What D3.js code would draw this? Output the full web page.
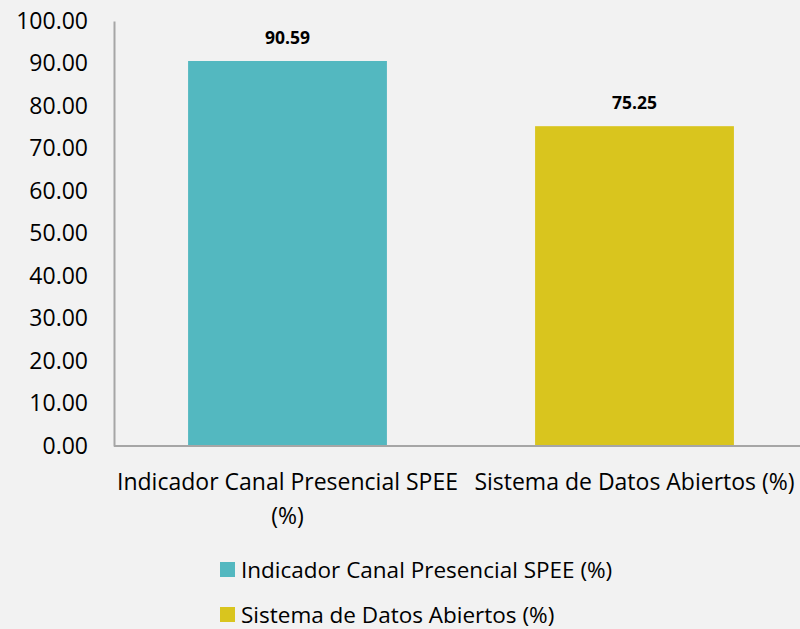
<!DOCTYPE html>
<html>
<head>
<meta charset="utf-8">
<script src="https://cdn.jsdelivr.net/npm/d3@7"></script>
<style>
  html, body { margin: 0; padding: 0; background: #f2f2f2; }
  svg { display: block; font-family: 'Open Sans', sans-serif; }
</style>
</head>
<body>
<svg id="chart" width="800" height="629"></svg>
<script>
const categories = ['Indicador Canal Presencial SPEE (%)', 'Sistema de Datos Abiertos (%)'];
const values = [90.59, 75.25];
const colors = ['#53b8c0', '#d9c51e'];
const yTicks = [0, 10, 20, 30, 40, 50, 60, 70, 80, 90, 100];

const svg = d3.select('#chart');
const W = 800, H = 629;
const plotLeft = 114, plotRight = 808, plotTop = 21, plotBottom = 446;

svg.append('rect').attr('width', W).attr('height', H).attr('fill', '#f2f2f2');

const y = d3.scaleLinear().domain([0, 100]).range([plotBottom, plotTop]);
const x = d3.scaleBand()
  .domain(categories)
  .range([plotLeft, plotRight])
  .paddingInner(0.427)
  .paddingOuter(0.2135);

// y axis labels (no tick marks)
const yAxis = svg.append('g')
  .attr('transform', `translate(${plotLeft},0)`)
  .call(d3.axisLeft(y).tickValues(yTicks).tickFormat(d3.format('.2f')).tickSize(0).tickPadding(26));
yAxis.select('.domain').attr('stroke', '#a6a6a6').attr('stroke-width', 2);
yAxis.selectAll('text').attr('font-size', 23).attr('fill', '#000').attr('font-family', "'Open Sans', sans-serif");

// bars
svg.append('g')
  .selectAll('rect')
  .data(values)
  .join('rect')
  .attr('x', (d, i) => x(categories[i]))
  .attr('width', x.bandwidth())
  .attr('y', d => y(d))
  .attr('height', d => y(0) - y(d))
  .attr('fill', (d, i) => colors[i]);

// x axis line
svg.append('line')
  .attr('x1', plotLeft).attr('x2', W)
  .attr('y1', plotBottom).attr('y2', plotBottom)
  .attr('stroke', '#a6a6a6').attr('stroke-width', 2);

// data labels
svg.append('g')
  .selectAll('text')
  .data(values)
  .join('text')
  .attr('x', (d, i) => x(categories[i]) + x.bandwidth() / 2)
  .attr('y', d => y(d) - 24)
  .attr('text-anchor', 'middle')
  .attr('dominant-baseline', 'central')
  .attr('font-size', 17.5)
  .attr('font-weight', 'bold')
  .attr('fill', '#000')
  .text(d => d.toFixed(2));

// category labels, wrapped like the original
const catLines = [['Indicador Canal Presencial SPEE', '(%)'], ['Sistema de Datos Abiertos (%)']];
const catLabel = svg.append('g')
  .selectAll('text')
  .data(categories)
  .join('text')
  .attr('x', d => x(d) + x.bandwidth() / 2)
  .attr('y', 481)
  .attr('text-anchor', 'middle')
  .attr('dominant-baseline', 'central')
  .attr('font-size', 23)
  .attr('fill', '#000');
catLabel.selectAll('tspan')
  .data((d, i) => catLines[i])
  .join('tspan')
  .attr('x', function () { return this.parentNode.getAttribute('x'); })
  .attr('dy', (d, i) => i === 0 ? 0 : 34)
  .text(d => d);

// legend
const legend = svg.append('g')
  .selectAll('g')
  .data(categories)
  .join('g')
  .attr('transform', (d, i) => `translate(220,${569 + i * 45})`);
legend.append('rect')
  .attr('x', 0).attr('y', -7)
  .attr('width', 15).attr('height', 15)
  .attr('fill', (d, i) => colors[i]);
legend.append('text')
  .attr('x', 21)
  .attr('y', 0)
  .attr('dominant-baseline', 'central')
  .attr('font-size', 22.5)
  .attr('fill', '#000')
  .text(d => d);
</script>
</body>
</html>
